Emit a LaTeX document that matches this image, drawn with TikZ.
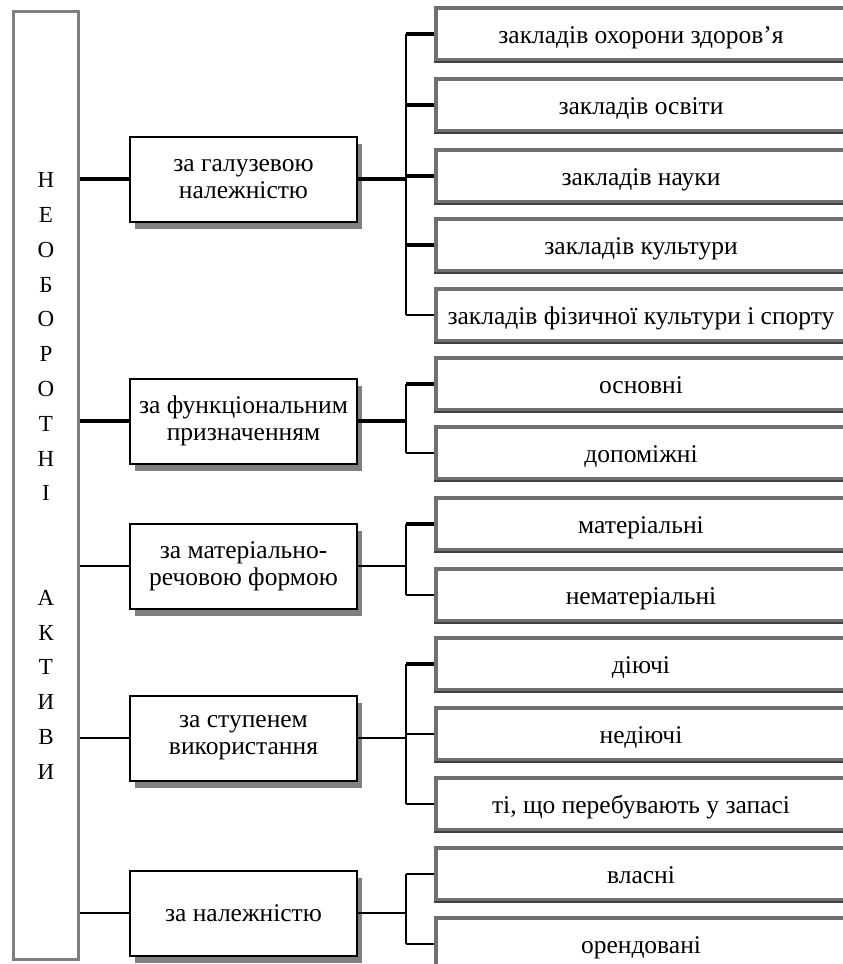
\documentclass[tikz,border=0pt]{standalone}
\usepackage{fontspec}
\setmainfont{Liberation Serif}
\usetikzlibrary{shadows}
\definecolor{bordgris}{RGB}{112,112,112}
\definecolor{bordfonce}{RGB}{64,64,64}
\tikzset{
  box/.style = {align=center, inner sep=0pt, text centered,
    font=\fontsize{25.5}{27}\selectfont},
  main_box/.style = {box, rectangle, draw=gray, line width=3pt,
    minimum width=65pt, minimum height=948pt},% grande boite a gauche
  letters/.style = {align=center, inner sep=0pt,
    font=\fontsize{23}{34.8}\selectfont},% lettres verticales
  grp_box/.style = {box, rectangle, draw=black, line width=2pt, fill=white,
    minimum width=227pt, minimum height=85pt,
    drop shadow={shadow xshift=5pt, shadow yshift=-7pt, fill=gray, opacity=1}},% critere
  leaf_box/.style = {box, rectangle, draw=bordgris, line width=3.5pt, fill=white,
    minimum width=410pt, minimum height=52pt,
    text height=19pt, text depth=0pt},% sous-classe
  leaf_bas/.style = {draw=bordfonce, line width=2pt},% bord bas plus sombre
  lnk_b/.style = {line width=4.5pt},% lien gras
  lnk_n/.style = {line width=2.6pt},% lien normal
  bus/.style = {line width=2pt}
}

\begin{document}
\begin{tikzpicture}[x=1pt, y=-1pt]
	\useasboundingbox (0,0) rectangle (843,964);
	\node [main_box] (akt) at (46,485) {};
	\node [letters] (nazva) at (46,476)
		{Н\\Е\\О\\Б\\О\\Р\\О\\Т\\Н\\І\\\mbox{}\\\mbox{}\\А\\К\\Т\\И\\В\\И};

	\node [grp_box] (m1) at (243.5,179) {за галузевою\\належністю};
	\node [grp_box] (m2) at (243.5,421) {за функціональним\\призначенням};
	\node [grp_box] (m3) at (243.5,566) {за матеріально-\\речовою формою};
	\node [grp_box] (m4) at (243.5,738) {за ступенем\\використання};
	\node [grp_box] (m5) at (243.5,913) {за належністю};

	\foreach \m/\w in {1/lnk_b, 2/lnk_b, 3/lnk_n, 4/lnk_n, 5/lnk_n}
	{
		\coordinate (b\m) at (406,0 |- m\m.center);
		\draw [\w] (m\m.west -| akt.east) -- (m\m.west);
		\draw [\w] (m\m.east) -- (b\m);
	}

	\foreach \n/\y/\g/\w/\t in {
		1/34/b1/lnk_b/{закладів охорони здоров’я},
		2/105/b1/lnk_b/{закладів освіти},
		3/176/b1/lnk_b/{закладів науки},
		4/245/b1/lnk_b/{закладів культури},
		5/315/b1/lnk_n/{закладів фізичної культури і спорту},
		6/384/b2/lnk_b/{основні},
		7/453/b2/lnk_n/{допоміжні},
		8/524/b3/lnk_b/{матеріальні},
		9/595/b3/lnk_n/{нематеріальні},
		10/664/b4/lnk_b/{діючі},
		11/734/b4/lnk_n/{недіючі},
		12/804/b4/lnk_n/{ті, що перебувають у запасі},
		13/874/b5/lnk_n/{власні},
		14/944/b5/lnk_n/{орендовані}}
	{
		\node [leaf_box] (r\n) at (641,\y) {\t};
		\draw [leaf_bas] (r\n.south west) -- (r\n.south east);
		\draw [bus] (\g) -- (\g |- r\n.west);
		\draw [\w] (\g |- r\n.west) -- (r\n.west);
	}
\end{tikzpicture}
\end{document}
